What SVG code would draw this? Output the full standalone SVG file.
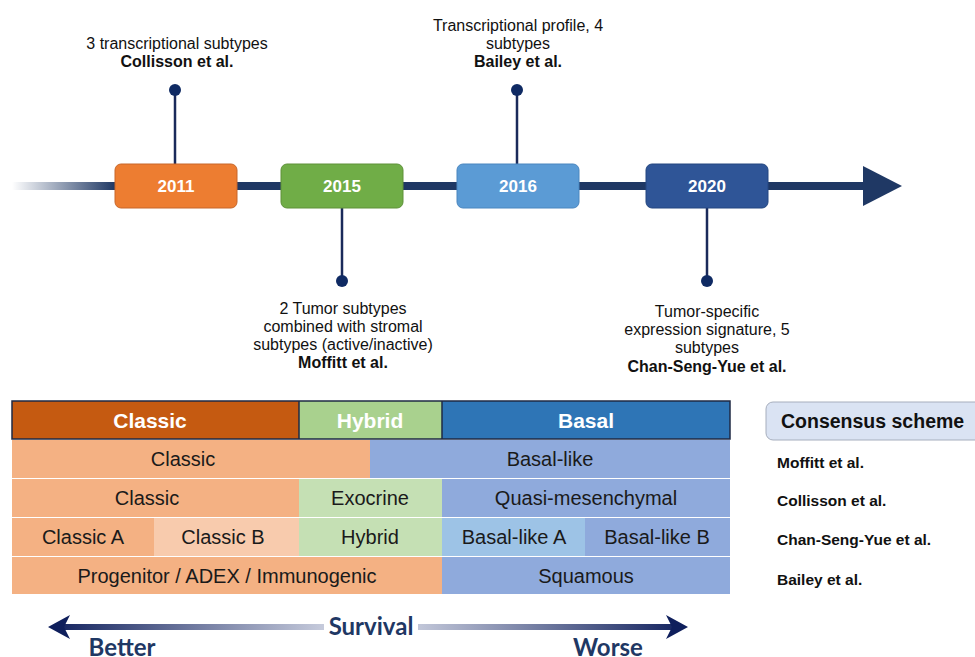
<svg xmlns="http://www.w3.org/2000/svg" width="975" height="657" viewBox="0 0 975 657">
<defs>
<linearGradient id="tl" x1="12" y1="0" x2="115" y2="0" gradientUnits="userSpaceOnUse">
<stop offset="0" stop-color="#1F3864" stop-opacity="0"/>
<stop offset="1" stop-color="#1F3864"/>
</linearGradient>
<linearGradient id="sv" x1="48" y1="0" x2="688" y2="0" gradientUnits="userSpaceOnUse">
<stop offset="0" stop-color="#0F1F5C"/>
<stop offset="0.5" stop-color="#E3E6F0"/>
<stop offset="1" stop-color="#0F1F5C"/>
</linearGradient>
<style>
.yr{font:bold 17px "Liberation Sans",Arial,sans-serif;fill:#fff;text-anchor:middle}
.ann{font:16px "Liberation Sans",Arial,sans-serif;fill:#111;text-anchor:middle}
.annb{font:bold 16px "Liberation Sans",Arial,sans-serif;fill:#111;text-anchor:middle}
.stem{stroke:#1A2A5A;stroke-width:2.5}
.dot{fill:#0F2A63}
.hd{font:bold 21px "Liberation Sans",Arial,sans-serif;fill:#fff;text-anchor:middle}
.cell{font:20px "Liberation Sans",Arial,sans-serif;fill:#1a1a1a;text-anchor:middle}
.lab{font:bold 15.5px "Liberation Sans",Arial,sans-serif;fill:#111}
.sv{font:bold 24px Lato,"Open Sans",sans-serif;fill:#1F3864;text-anchor:middle}
</style>
</defs>
<rect width="975" height="657" fill="#fff"/>

<g id="connectors">
<rect x="12" y="182" width="105" height="8" fill="url(#tl)"/>
<rect x="115" y="182" width="752" height="8" fill="#1F3864"/>
<polygon points="863,166 902,186 863,206" fill="#1F3864"/>
<line class="stem" x1="175" y1="90" x2="175" y2="164"/>
<circle class="dot" cx="175" cy="90" r="6"/>
<line class="stem" x1="342" y1="208" x2="342" y2="281"/>
<circle class="dot" cx="342" cy="281" r="6"/>
<line class="stem" x1="517" y1="90" x2="517" y2="164"/>
<circle class="dot" cx="517" cy="90" r="6"/>
<line class="stem" x1="707" y1="208" x2="707" y2="281"/>
<circle class="dot" cx="707" cy="281" r="6"/>
</g>

<g id="y2011">
<rect x="115" y="164" width="122" height="44" rx="6" fill="#ED7D31" stroke="#C7672A" stroke-width="1"/>
<text class="yr" x="176" y="192">2011</text>
</g>
<g id="y2015">
<rect x="281" y="164" width="122" height="44" rx="6" fill="#70AD47" stroke="#5E9139" stroke-width="1"/>
<text class="yr" x="342" y="192">2015</text>
</g>
<g id="y2016">
<rect x="457" y="164" width="122" height="44" rx="6" fill="#5B9BD5" stroke="#4A86BF" stroke-width="1"/>
<text class="yr" x="518" y="192">2016</text>
</g>
<g id="y2020">
<rect x="646" y="164" width="122" height="44" rx="6" fill="#2F5597" stroke="#244780" stroke-width="1"/>
<text class="yr" x="707" y="192">2020</text>
</g>

<g id="ann2011">
<text class="ann" x="177" y="49">3 transcriptional subtypes</text>
<text class="annb" x="177" y="67">Collisson et al.</text>
</g>
<g id="ann2016">
<text class="ann" x="518" y="31">Transcriptional profile, 4</text>
<text class="ann" x="518" y="49">subtypes</text>
<text class="annb" x="518" y="67">Bailey et al.</text>
</g>
<g id="ann2015">
<text class="ann" x="343" y="314">2 Tumor subtypes</text>
<text class="ann" x="343" y="332">combined with stromal</text>
<text class="ann" x="343" y="350">subtypes (active/inactive)</text>
<text class="annb" x="343" y="368">Moffitt et al.</text>
</g>
<g id="ann2020">
<text class="ann" x="707" y="317">Tumor-specific</text>
<text class="ann" x="707" y="335">expression signature, 5</text>
<text class="ann" x="707" y="353">subtypes</text>
<text class="annb" x="707" y="372">Chan-Seng-Yue et al.</text>
</g>

<g id="header">
<rect x="12" y="401" width="287" height="38" fill="#C55A11"/>
<rect x="299" y="401" width="143" height="38" fill="#A9D18E"/>
<rect x="442" y="401" width="288" height="38" fill="#2E75B6"/>
<rect x="12" y="401" width="718" height="38" fill="none" stroke="#1F2A44" stroke-width="1.5"/>
<line x1="299" y1="401" x2="299" y2="439" stroke="#1F2A44" stroke-width="1.5"/>
<line x1="442" y1="401" x2="442" y2="439" stroke="#1F2A44" stroke-width="1.5"/>
<text class="hd" x="150" y="428">Classic</text>
<text class="hd" x="370" y="428">Hybrid</text>
<text class="hd" x="586" y="428">Basal</text>
</g>

<g id="row-moffitt">
<rect x="12" y="440" width="358" height="38" fill="#F4B183"/>
<rect x="370" y="440" width="360" height="38" fill="#8FAADC"/>
<text class="cell" x="183" y="466">Classic</text>
<text class="cell" x="550" y="466">Basal-like</text>
</g>
<g id="row-collisson">
<rect x="12" y="479" width="287" height="38" fill="#F4B183"/>
<rect x="299" y="479" width="143" height="38" fill="#C5E0B4"/>
<rect x="442" y="479" width="288" height="38" fill="#8FAADC"/>
<text class="cell" x="147" y="505">Classic</text>
<text class="cell" x="370" y="505">Exocrine</text>
<text class="cell" x="586" y="505">Quasi-mesenchymal</text>
</g>
<g id="row-chan">
<rect x="12" y="518" width="142" height="38" fill="#F4B183"/>
<rect x="154" y="518" width="145" height="38" fill="#F8CBAD"/>
<rect x="299" y="518" width="143" height="38" fill="#C5E0B4"/>
<rect x="442" y="518" width="143" height="38" fill="#9DC3E6"/>
<rect x="585" y="518" width="145" height="38" fill="#8FAADC"/>
<text class="cell" x="83" y="544">Classic A</text>
<text class="cell" x="223" y="544">Classic B</text>
<text class="cell" x="370" y="544">Hybrid</text>
<text class="cell" x="514" y="544">Basal-like A</text>
<text class="cell" x="657" y="544">Basal-like B</text>
</g>
<g id="row-bailey">
<rect x="12" y="557" width="430" height="37" fill="#F4B183"/>
<rect x="442" y="557" width="288" height="37" fill="#8FAADC"/>
<text class="cell" x="227" y="583">Progenitor / ADEX / Immunogenic</text>
<text class="cell" x="586" y="583">Squamous</text>
</g>

<g id="consensus">
<rect x="766" y="402" width="220" height="38" rx="7" fill="#DAE3F3" stroke="#A6AEBD" stroke-width="1"/>
<text x="781" y="428" style="font:bold 19.5px 'Liberation Sans',Arial,sans-serif;fill:#111">Consensus scheme</text>
<text class="lab" x="777" y="468">Moffitt et al.</text>
<text class="lab" x="777" y="506">Collisson et al.</text>
<text class="lab" x="777" y="545">Chan-Seng-Yue et al.</text>
<text class="lab" x="777" y="585">Bailey et al.</text>
</g>

<g id="survival">
<rect x="62" y="624" width="612" height="6" fill="url(#sv)"/>
<polygon points="48,627 70,615 64,627 70,639" fill="#0F1F5C"/>
<polygon points="688,627 666,615 672,627 666,639" fill="#0F1F5C"/>
<rect x="324" y="613" width="94" height="26" fill="#fff"/>
<text class="sv" x="371" y="635">Survival</text>
<text class="sv" x="122" y="656">Better</text>
<text class="sv" x="608" y="656">Worse</text>
</g>
</svg>
